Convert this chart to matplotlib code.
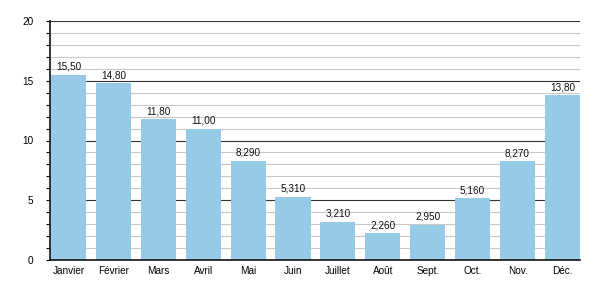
import matplotlib
matplotlib.use("Agg")
import matplotlib.pyplot as plt
from matplotlib.ticker import MultipleLocator

months = ["Janvier", "Février", "Mars", "Avril", "Mai", "Juin",
          "Juillet", "Août", "Sept.", "Oct.", "Nov.", "Déc."]
values = [15.50, 14.80, 11.80, 11.00, 8.290, 5.310,
          3.210, 2.260, 2.950, 5.160, 8.270, 13.80]
labels = ["15,50", "14,80", "11,80", "11,00", "8,290", "5,310",
          "3,210", "2,260", "2,950", "5,160", "8,270", "13,80"]

plt.rcParams['font.family'] = ['Liberation Sans', 'DejaVu Sans']
fig = plt.figure(figsize=(6, 3), dpi=100)
ax = fig.add_axes([50/600, 40/300, 530/600, 239/300])

x = list(range(len(months)))
ax.bar(x, values, width=0.78, color="#97cae6", zorder=2)
for xi, v, lab in zip(x, values, labels):
    ax.text(xi, v + 0.25, lab, ha="center", va="bottom", fontsize=7.2, color="#111111", zorder=3)

ax.set_xlim(-0.41, 11.39)
ax.set_ylim(0, 20)
ax.yaxis.set_major_locator(MultipleLocator(5))
ax.yaxis.set_minor_locator(MultipleLocator(1))
ax.grid(which="minor", axis="y", color="#c8c8c8", linewidth=0.8, zorder=0)
ax.grid(which="major", axis="y", color="#333333", linewidth=0.8, zorder=1)
ax.set_axisbelow(True)

ax.set_xticks(x)
ax.set_xticklabels(months, fontsize=7.2)
ax.tick_params(axis="x", length=0, pad=4)
ax.tick_params(axis="y", which="major", length=3, width=0.8, pad=9, labelsize=7.2)
ax.tick_params(axis="y", which="minor", length=3, width=0.8)

for s in ["top", "right"]:
    ax.spines[s].set_visible(False)
for s in ["left", "bottom"]:
    ax.spines[s].set_color("#111111")
    ax.spines[s].set_linewidth(1.2)
    ax.spines[s].set_zorder(4)

fig.savefig("out.png", dpi=100)
